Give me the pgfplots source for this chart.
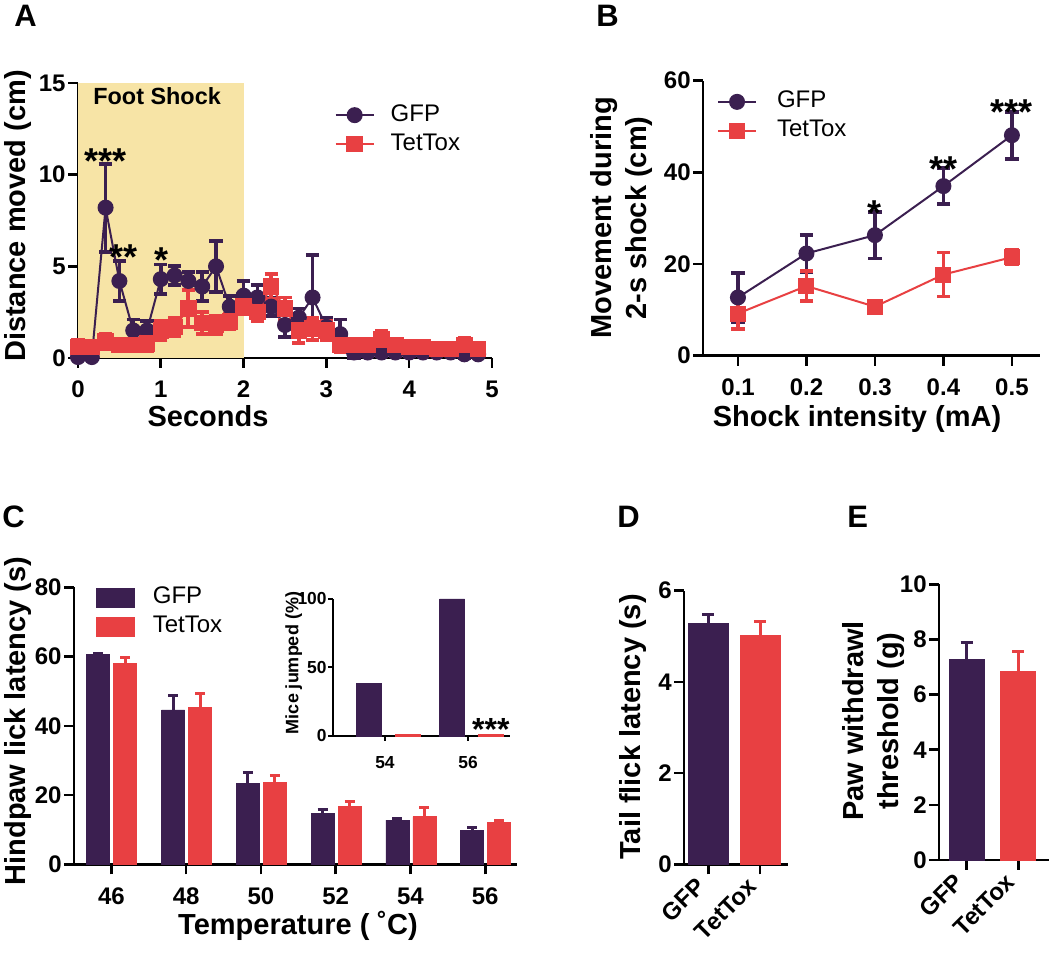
\documentclass[border=0pt]{standalone}
\usepackage{fontspec}
\setmainfont{Liberation Sans}
\usepackage{pgfplots}
\usepackage{pgfplotstable}
\pgfplotsset{compat=1.18}
\definecolor{gfp}{RGB}{59,31,80}
\definecolor{tet}{RGB}{232,64,66}
\definecolor{shade}{RGB}{247,228,166}
\newcommand{\tickf}{\fontsize{12}{14}\selectfont\bfseries}
\newcommand{\labf}{\fontsize{14.5}{17.5}\selectfont\bfseries}
\newcommand{\legf}{\fontsize{12}{14}\selectfont}
\newcommand{\astf}{\fontsize{18}{20}\selectfont\bfseries}

\pgfplotstableread{
t m e
0.000 0.05 0.10
0.167 0.05 0.10
0.333 8.2 2.4
0.500 4.2 1.1
0.667 1.5 0.6
0.833 1.5 0.5
1.000 4.3 0.8
1.167 4.5 0.5
1.333 4.2 0.5
1.500 3.9 0.8
1.667 5.0 1.4
1.833 2.8 0.6
2.000 3.4 0.8
2.167 3.3 0.7
2.333 2.8 0.5
2.500 1.8 0.65
2.667 2.2 0.5
2.833 3.3 2.3
3.000 1.7 0.5
3.167 1.3 0.8
3.333 0.3 0.3
3.500 0.3 0.2
3.667 0.3 0.2
3.833 0.3 0.2
4.000 0.3 0.2
4.167 0.3 0.1
4.333 0.3 0.1
4.500 0.3 0.1
4.667 0.2 0.2
4.833 0.2 0.1
}\gfpA
\pgfplotstableread{
t m e
0.000 0.6 0.4
0.167 0.6 0.3
0.333 0.9 0.4
0.500 0.7 0.3
0.667 0.7 0.3
0.833 0.8 0.4
1.000 1.5 0.5
1.167 1.7 0.5
1.333 2.7 1.0
1.500 1.9 0.6
1.667 1.8 0.5
1.833 2.0 0.4
2.000 2.8 0.4
2.167 2.5 0.5
2.333 3.9 0.7
2.500 2.7 0.6
2.667 1.5 0.7
2.833 1.6 0.6
3.000 1.5 0.5
3.167 0.7 0.4
3.333 0.7 0.3
3.500 0.7 0.3
3.667 1.0 0.5
3.833 0.7 0.3
4.000 0.6 0.3
4.167 0.6 0.2
4.333 0.5 0.2
4.500 0.5 0.2
4.667 0.7 0.4
4.833 0.5 0.3
}\tetA
\pgfplotstableread{
x m e
0.1 12.7 5.3
0.2 22.3 4.0
0.3 26.3 5.1
0.4 37.0 3.9
0.5 48.1 5.1
}\gfpB
\pgfplotstableread{
x m e
0.1 9.2 3.3
0.2 15.2 3.3
0.3 10.7 1.2
0.4 17.7 4.8
0.5 21.5 1.5
}\tetB
\pgfplotstableread{
x m e
46 60.5 0.3
48 44.6 4.1
50 23.4 3.1
52 14.8 1.1
54 12.8 0.4
56 9.7 0.9
}\gfpC
\pgfplotstableread{
x m e
46 58.1 1.6
48 45.3 4.1
50 23.6 2.0
52 16.7 1.4
54 13.8 2.7
56 12.1 0.7
}\tetC

\pgfplotsset{
  gp/.style={
    scale only axis, anchor=south west, clip=false,
    axis x line*=bottom, axis y line*=left,
    axis line style={line width=1.3pt, black, -},
    every tick/.style={line width=1.3pt, black},
    tick align=outside, major tick length=5pt,
    tick label style={font=\tickf},
    yticklabel style={inner sep=1pt},
    xticklabel style={yshift=-3pt},
    /pgf/number format/assume math mode=true,
    /pgf/number format/fixed,
  },
  lineleg/.style={
    legend style={draw=none, fill=none, inner sep=0pt, outer sep=0pt,
      row sep=2.5pt, font=\legf,
      nodes={inner sep=0pt, text height=9pt, text depth=3pt},
      /tikz/every odd column/.append style={column sep=#1}},
    legend cell align=left,
    legend image code/.code={\draw[##1, mark repeat=2, mark phase=2] plot coordinates {(0pt,0pt) (9.5pt,0pt) (19pt,0pt)};},
  },
  eb/.style={error bars/.cd, y dir=both, y explicit,
    error bar style={#1, line width=1.9pt},
    error mark options={#1, rotate=90, mark size=3.3pt, line width=1.9pt}},
  ebp/.style 2 args={error bars/.cd, y dir=plus, y explicit,
    error bar style={#1, line width=1.5pt},
    error mark options={#1, rotate=90, mark size=#2, line width=1.5pt}},
}

\begin{document}
\begin{tikzpicture}
\useasboundingbox (0,0) rectangle (525pt,476.5pt);

% ---------------- Panel A ----------------
\begin{axis}[gp, at={(39pt,297.5pt)}, width=207pt, height=137.5pt,
  xmin=0, xmax=5, ymin=0, ymax=15, xtick={0,1,2,3,4,5}, ytick={0,5,10,15},
  lineleg=8pt, legend style={at={(axis cs:3.10,13.9)}, anchor=north west}]
\addplot[draw=none, fill=shade, forget plot] coordinates {(0,15) (2,15)} \closedcycle;
\addplot[gfp, line width=1pt, mark=*, mark size=3.5pt, mark options={solid, fill=gfp}, eb=gfp]
  table[x=t, y=m, y error=e] {\gfpA};
\addlegendentry{GFP}
\addplot[tet, line width=1pt, mark=square*, mark size=3.6pt, mark options={solid, fill=tet}, eb=tet]
  table[x=t, y=m, y error=e] {\tetA};
\addlegendentry{TetTox}
\node[font=\astf, yshift=-4pt] at (axis cs:0.337,11.18) {***};
\node[font=\astf, yshift=-4pt] at (axis cs:0.548,5.92) {**};
\node[font=\astf, yshift=-4pt] at (axis cs:1.01,5.78) {*};
\end{axis}

% ---------------- Panel B ----------------
\begin{axis}[gp, at={(351.5pt,298.65pt)}, width=168.5pt, height=137.5pt,
  xmin=0.049, xmax=0.541, ymin=0, ymax=60, xtick={0.1,0.2,0.3,0.4,0.5}, ytick={0,20,40,60},
  xticklabel style={/pgf/number format/precision=1, /pgf/number format/fixed zerofill},
  lineleg=10pt, legend style={at={(axis cs:0.0695,58.0)}, anchor=north west}]
\addplot[gfp, line width=1pt, mark=*, mark size=3.5pt, mark options={solid, fill=gfp}, eb=gfp]
  table[x=x, y=m, y error=e] {\gfpB};
\addlegendentry{GFP}
\addplot[tet, line width=1pt, mark=square*, mark size=3.5pt, mark options={solid, fill=tet}, eb=tet]
  table[x=x, y=m, y error=e] {\tetB};
\addlegendentry{TetTox}
\node[font=\astf, yshift=-4pt] at (axis cs:0.3,32.9) {*};
\node[font=\astf, yshift=-4pt] at (axis cs:0.4,42.5) {**};
\node[font=\astf, yshift=-4pt] at (axis cs:0.5,55.0) {***};
\end{axis}

% ---------------- Panel C ----------------
\begin{axis}[gp, at={(37pt,44.25pt)}, width=221.5pt, height=138.6pt,
  xmin=45, xmax=56.85, ymin=0, ymax=80, xtick={46,48,50,52,54,56}, ytick={0,20,40,60,80},
  ybar, bar width=11.5pt,
  legend style={at={(axis cs:45.59,80.5)}, anchor=north west, draw=none, fill=none,
    inner sep=0pt, outer sep=0pt, row sep=2.5pt, font=\legf,
    nodes={inner sep=0pt, text height=9pt, text depth=3pt},
    /tikz/every odd column/.append style={column sep=9pt}},
  legend cell align=left,
  legend image code/.code={\fill[#1] (0pt,-4.75pt) rectangle (19pt,4.75pt);}]
\addplot[bar shift=-6.5pt, fill=gfp, draw=gfp, ebp={gfp}{2.5pt}] table[x=x, y=m, y error=e] {\gfpC};
\addlegendentry{GFP}
\addplot[bar shift=7pt, fill=tet, draw=tet, ebp={tet}{2.5pt}] table[x=x, y=m, y error=e] {\tetC};
\addlegendentry{TetTox}
\end{axis}

% inset
\begin{axis}[gp, at={(166.5pt,108.5pt)}, width=88.5pt, height=68.5pt,
  xmin=52.75, xmax=57.01, ymin=0, ymax=100, xtick={54,56}, ytick={0,50,100},
  tick label style={font=\fontsize{8.7}{10}\selectfont\bfseries},
  yticklabel style={inner sep=0.5pt}, xticklabel style={yshift=-1pt},
  major tick length=2.5pt, axis line style={line width=1pt},
  every tick/.style={line width=1pt, black},
  ybar, bar width=12.5pt]
\addplot[bar shift=-8pt, fill=gfp, draw=gfp] coordinates {(54,38.5) (56,100)};
\addplot[bar shift=11.5pt, fill=tet, draw=tet] coordinates {(54,0.8) (56,0.8)};
\node[font=\fontsize{16}{18}\selectfont\bfseries, yshift=-3.5pt] at (axis cs:56.55,9.5) {***};
\end{axis}

% ---------------- Panel D ----------------
\begin{axis}[gp, at={(342pt,44.35pt)}, width=52pt, height=136.8pt,
  xmin=-0.47, xmax=1.54, ymin=0, ymax=6, xtick={0,1}, xticklabels={GFP,TetTox},
  ytick={0,2,4,6}, xticklabel style={rotate=45, anchor=east, yshift=2pt},
  ybar, bar width=20pt]
\addplot[bar shift=0pt, fill=gfp, draw=gfp, ebp={gfp}{3pt}] coordinates {(0,5.28) +- (0,0.2)};
\addplot[bar shift=0pt, fill=tet, draw=tet, ebp={tet}{3pt}] coordinates {(1,5.03) +- (0,0.29)};
\end{axis}

% ---------------- Panel E ----------------
\begin{axis}[gp, at={(469.5pt,46.5pt)}, width=55.1pt, height=137.8pt,
  xmin=-0.537, xmax=1.6, ymin=0, ymax=10, xtick={0,1}, xticklabels={GFP,TetTox},
  ytick={0,2,4,6,8,10}, xticklabel style={rotate=45, anchor=east, yshift=2pt},
  ybar, bar width=17.5pt]
\addplot[bar shift=0pt, fill=gfp, draw=gfp, ebp={gfp}{3pt}] coordinates {(0,7.29) +- (0,0.6)};
\addplot[bar shift=0pt, fill=tet, draw=tet, ebp={tet}{3pt}] coordinates {(1,6.83) +- (0,0.75)};
\end{axis}

% ---------------- texts ----------------
\begin{scope}[every node/.style={inner sep=0pt}]
\node[font=\fontsize{15.5}{18}\selectfont\bfseries, anchor=base west] at (7pt,463pt) {A};
\node[font=\fontsize{15.5}{18}\selectfont\bfseries, anchor=base west] at (298pt,463pt) {B};
\node[font=\fontsize{15.5}{18}\selectfont\bfseries, anchor=base west] at (1pt,212.5pt) {C};
\node[font=\fontsize{15.5}{18}\selectfont\bfseries, anchor=base west] at (308.5pt,212.5pt) {D};
\node[font=\fontsize{15.5}{18}\selectfont\bfseries, anchor=base west] at (423.5pt,212.5pt) {E};

\node[font=\fontsize{11.7}{14}\selectfont\bfseries, anchor=base west] at (46.5pt,424pt) {Foot Shock};

\node[font=\labf, rotate=90, anchor=north] at (2pt,368.5pt) {Distance moved (cm)};
\node[font=\labf, anchor=base] at (104pt,263pt) {Seconds};
\node[font=\labf, rotate=90, anchor=north, align=center] at (295pt,367.5pt) {Movement during\\2-s shock (cm)};
\node[font=\labf, anchor=base] at (428.5pt,263pt) {Shock intensity (mA)};
\node[font=\labf, rotate=90, anchor=north] at (2pt,116pt) {Hindpaw lick latency (s)};
\node[font=\labf, anchor=base] at (149pt,9pt) {Temperature ( ˚C)};
\node[font=\fontsize{9}{11}\selectfont\bfseries, rotate=90, anchor=north] at (142.5pt,145pt) {Mice jumped (\%)};
\node[font=\labf, rotate=90, anchor=north] at (309.5pt,113pt) {Tail flick latency (s)};
\node[font=\labf, rotate=90, anchor=north, align=center] at (421pt,116pt) {Paw withdrawl\\threshold (g)};
\end{scope}
\end{tikzpicture}
\end{document}
